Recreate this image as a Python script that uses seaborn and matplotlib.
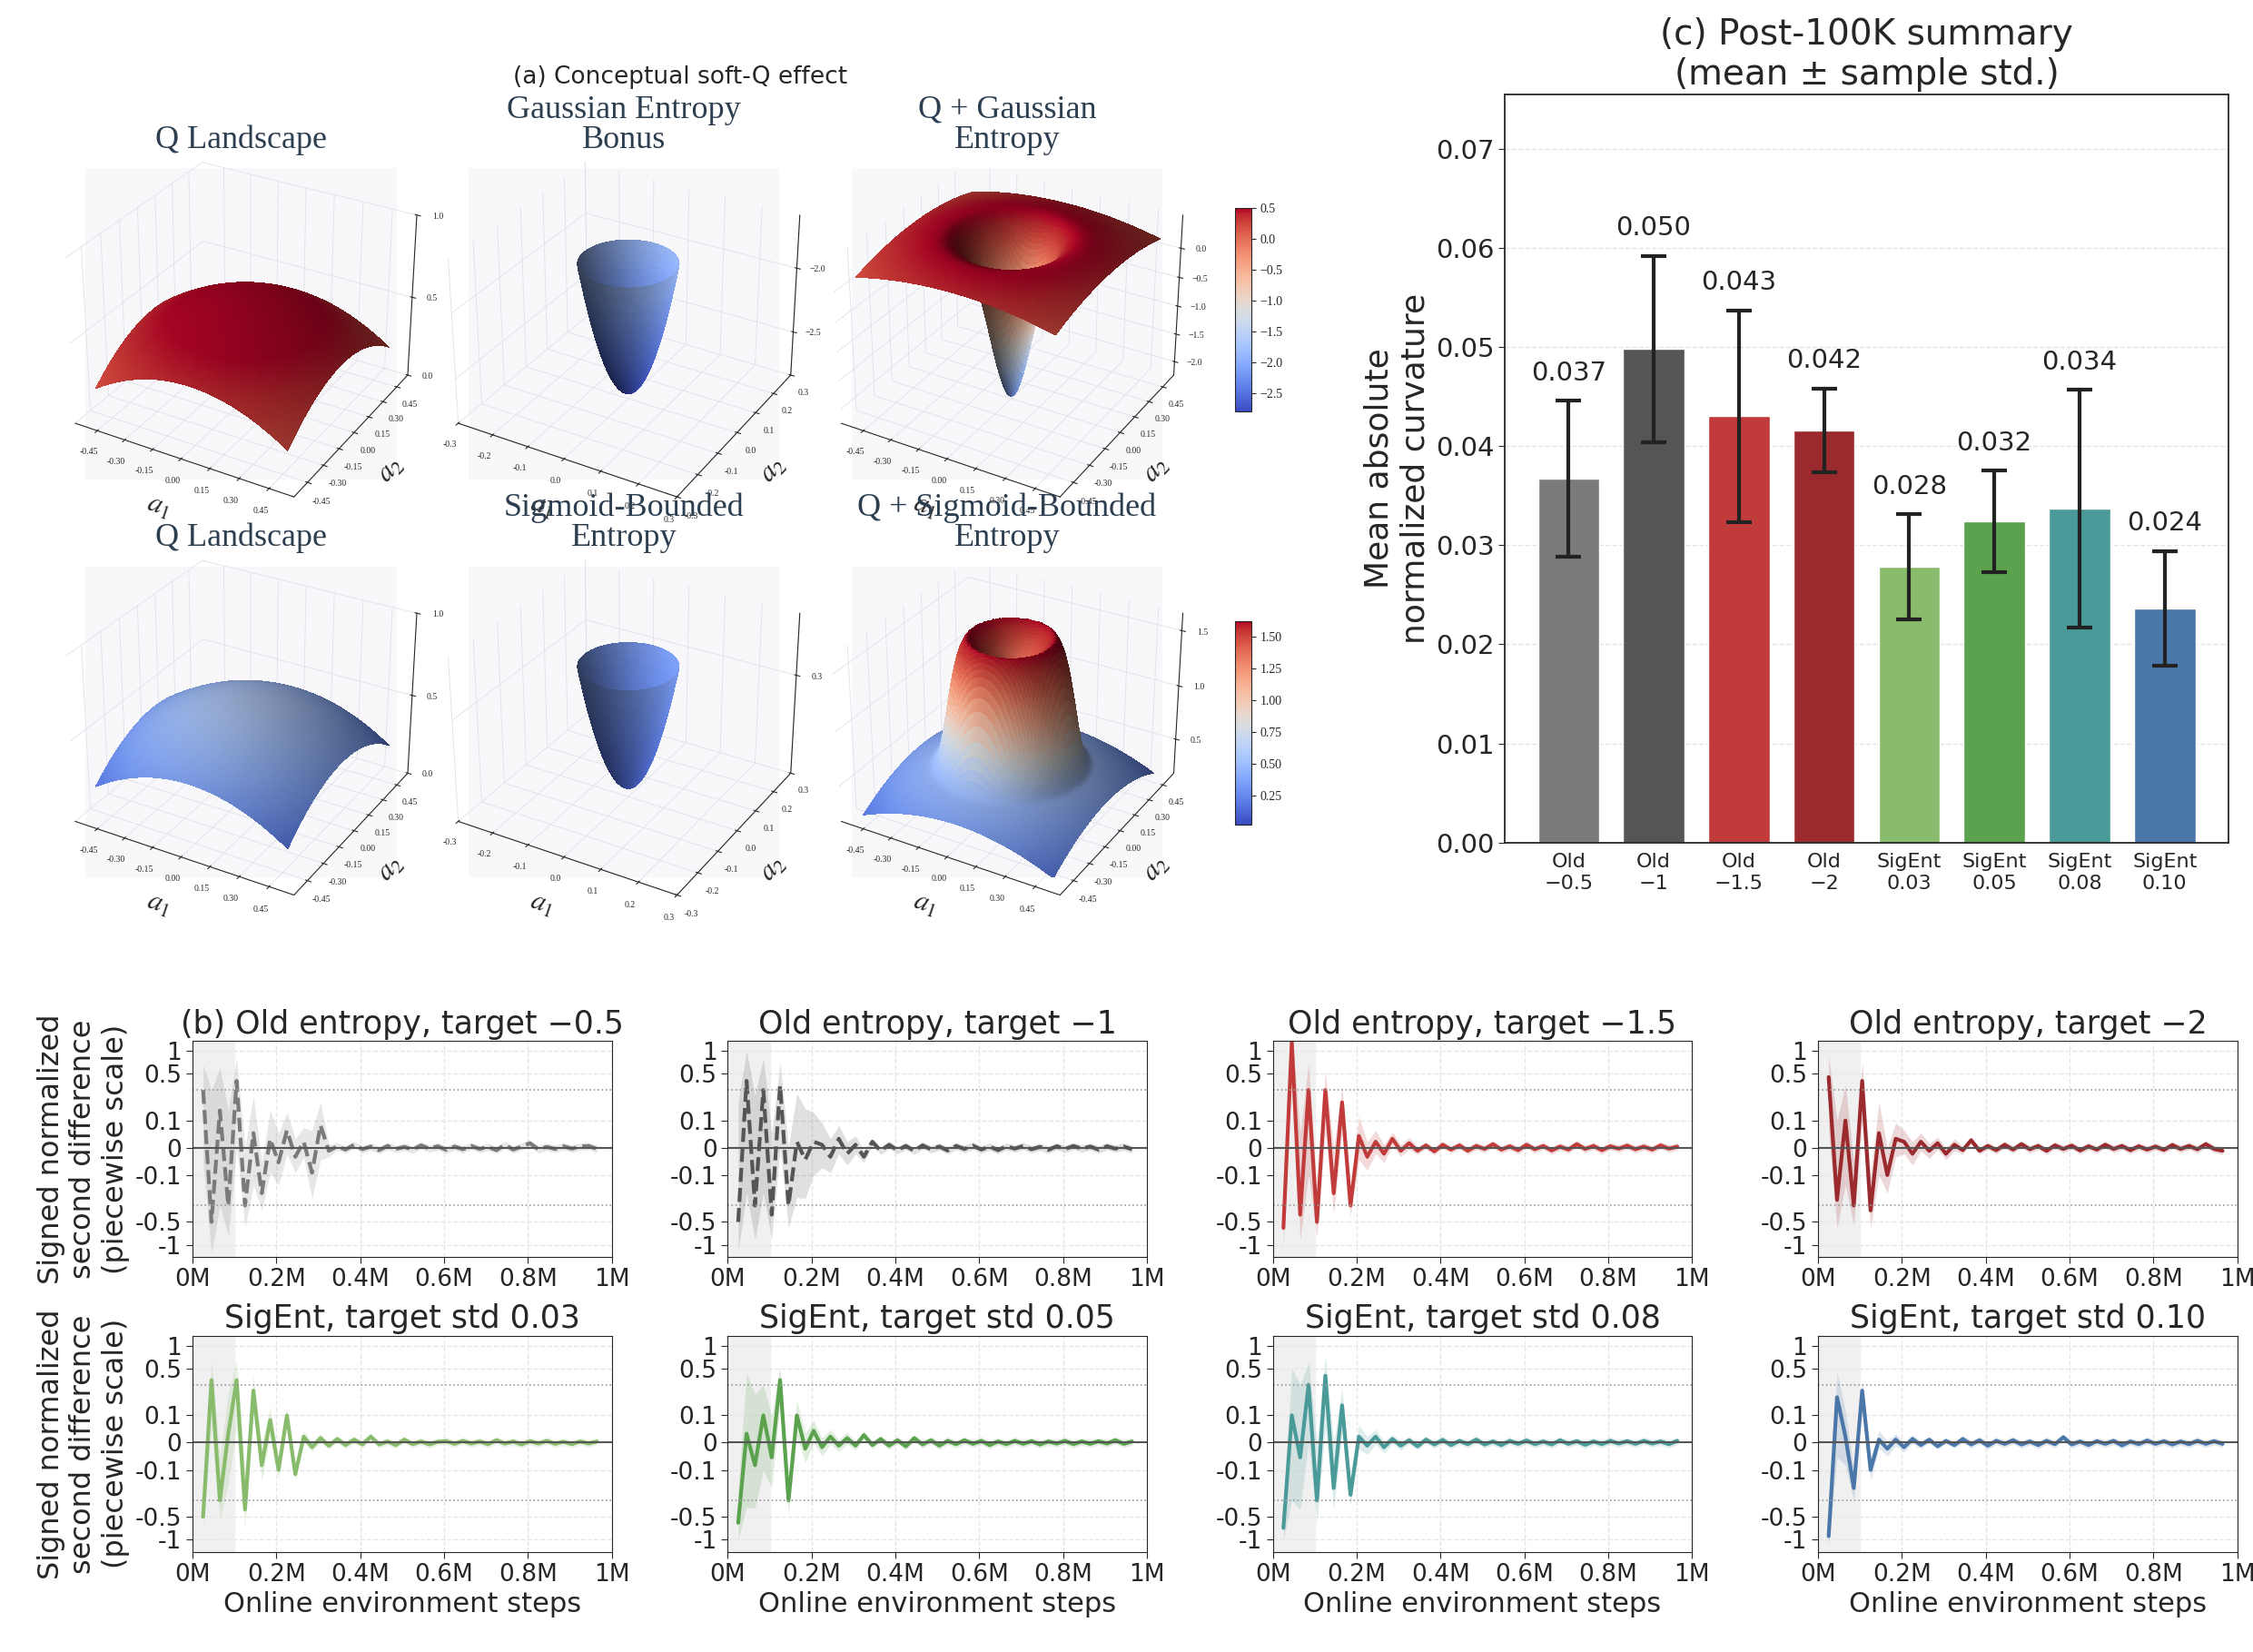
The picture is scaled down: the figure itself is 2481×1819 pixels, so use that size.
import numpy as np
import pandas as pd
import seaborn as sns
import matplotlib
matplotlib.use("Agg")
from matplotlib import pyplot as plt
from matplotlib import cm, colors

sns.set_style("white")
plt.rcParams['font.family'] = ['DejaVu Sans']
plt.rcParams['mathtext.fontset'] = 'stix'

# ---------------- data ----------------
bar_labels = ["Old\n\u22120.5", "Old\n\u22121", "Old\n\u22121.5", "Old\n\u22122",
              "SigEnt\n0.03", "SigEnt\n0.05", "SigEnt\n0.08", "SigEnt\n0.10"]
bar_means = [0.0367, 0.0498, 0.0430, 0.0416, 0.0278, 0.0324, 0.0337, 0.0236]
bar_stds = [0.0079, 0.0094, 0.0107, 0.0042, 0.0053, 0.0051, 0.0120, 0.0058]
bar_text = ["0.037", "0.050", "0.043", "0.042", "0.028", "0.032", "0.034", "0.024"]
bar_colors = ["#7a7a7a", "#555555", "#c23b3b", "#9b2a2e", "#88bc6c", "#5ba24f", "#4a9a9a", "#4a76a8"]

panel_titles = ["(b) Old entropy, target \u22120.5", "Old entropy, target \u22121",
                "Old entropy, target \u22121.5", "Old entropy, target \u22122",
                "SigEnt, target std 0.03", "SigEnt, target std 0.05",
                "SigEnt, target std 0.08", "SigEnt, target std 0.10"]
panel_dashed = [True, True, False, False, False, False, False, False]

steps = np.arange(25000, 975000, 20000)  # 48 checkpoints

old_05 = [0.3, -0.5, 0.15, -0.3, 0.4, -0.3, 0.05, -0.2, 0.03, -0.05, 0.06, -0.03, 0.02, -0.09, 0.08, -0.01,
          0.005, -0.006, 0.01, -0.005, 0.004, -0.008, 0.006, -0.004, 0.003, -0.006, 0.008, -0.003, 0.005, -0.007,
          0.004, -0.005, 0.006, -0.004, 0.003, -0.008, 0.01, -0.006, 0.004, 0.015, -0.005, 0.003, -0.004, 0.005,
          -0.003, 0.004, 0.006, -0.004]
old_1 = [-0.5, 0.4, -0.3, 0.3, -0.4, 0.35, -0.3, 0.02, -0.04, 0.02, 0.01, -0.03, 0.03, -0.02, 0.01, -0.03,
         0.02, -0.01, 0.01, -0.008, 0.006, -0.01, 0.008, -0.005, 0.004, -0.009, 0.006, -0.004, 0.007, -0.006,
         0.004, -0.008, 0.005, -0.003, 0.006, -0.005, 0.003, -0.007, 0.005, -0.004, 0.006, -0.003, 0.004, -0.006,
         0.005, -0.003, 0.004, -0.005]
old_15 = [-0.6, 1.3, -0.4, 0.3, -0.5, 0.3, -0.2, 0.2, -0.3, 0.04, -0.03, 0.02, -0.02, 0.03, -0.01, 0.015,
          -0.01, 0.008, -0.012, 0.01, -0.006, 0.008, -0.01, 0.006, -0.004, 0.012, -0.006, 0.005, -0.008, 0.01,
          -0.005, 0.006, -0.009, 0.004, -0.006, 0.012, -0.004, 0.006, -0.008, 0.005, -0.003, 0.007, -0.005, 0.004,
          -0.006, 0.008, -0.003, 0.004]
old_2 = [0.45, -0.25, 0.1, -0.3, 0.4, -0.35, 0.05, -0.1, 0.03, 0.02, -0.02, 0.02, -0.01, 0.015, -0.02, 0.01,
         -0.008, 0.025, -0.01, 0.006, -0.008, 0.01, -0.006, 0.012, -0.005, 0.006, -0.01, 0.008, -0.004, 0.007,
         -0.009, 0.005, -0.006, 0.01, -0.004, 0.006, -0.008, 0.005, -0.006, 0.004, -0.007, 0.009, -0.004, 0.006,
         -0.005, 0.012, -0.004, -0.01]
sig_03 = [-0.5, 0.35, -0.3, 0.03, 0.35, -0.4, 0.25, -0.08, 0.08, -0.1, 0.1, -0.12, 0.02, -0.015, 0.015, -0.01,
          0.012, -0.008, 0.01, -0.006, 0.02, -0.006, 0.004, -0.008, 0.01, -0.005, 0.004, -0.006, 0.003, 0.005,
          -0.004, 0.006, -0.003, 0.004, -0.005, 0.008, -0.003, 0.004, -0.006, 0.005, -0.003, 0.006, -0.004, 0.003,
          -0.005, 0.004, -0.003, 0.004]
sig_05 = [-0.6, 0.03, -0.08, 0.1, -0.05, 0.35, -0.3, 0.1, -0.02, 0.04, -0.015, 0.02, -0.01, 0.015, -0.01, 0.025,
          -0.008, 0.012, -0.01, 0.008, -0.012, 0.015, -0.006, 0.008, -0.01, 0.006, -0.005, 0.008, -0.004, 0.006,
          -0.008, 0.004, -0.005, 0.006, -0.004, 0.005, -0.006, 0.004, -0.003, 0.006, -0.005, 0.004, -0.004, 0.005,
          -0.003, 0.008, -0.004, 0.004]
sig_08 = [-0.7, 0.1, -0.05, 0.3, -0.3, 0.4, -0.2, 0.15, -0.25, 0.02, -0.01, 0.02, -0.015, 0.012, -0.01, 0.008,
          -0.012, 0.01, -0.006, 0.009, -0.008, 0.006, -0.005, 0.01, -0.006, 0.004, -0.008, 0.006, -0.004, 0.007,
          -0.005, 0.004, -0.006, 0.008, -0.004, 0.005, -0.007, 0.004, -0.005, 0.006, -0.003, 0.005, -0.004, 0.006,
          -0.003, 0.004, -0.005, 0.006]
sig_10 = [-0.9, 0.2, 0.02, -0.2, 0.25, -0.1, 0.01, -0.02, 0.01, -0.015, 0.012, -0.008, 0.01, -0.012, 0.006, -0.008,
          0.012, -0.006, 0.008, -0.01, 0.006, -0.004, 0.008, -0.006, 0.004, -0.008, 0.006, -0.005, 0.018, -0.006,
          0.004, -0.008, 0.005, -0.004, 0.006, -0.009, 0.004, -0.005, 0.007, -0.004, 0.005, -0.006, 0.004, -0.005,
          0.006, -0.004, 0.005, -0.004]

band_old_05 = [0.35, 0.8, 0.45, 0.45, 0.4, 0.3, 0.2, 0.15, 0.12, 0.1, 0.08, 0.06, 0.05, 0.15, 0.12, 0.02]
band_old_1 = [0.7, 0.6, 0.55, 0.5, 0.45, 0.35, 0.3, 0.25, 0.2, 0.12, 0.08, 0.06, 0.05, 0.04, 0.03, 0.02]
band_old_15 = [0.5, 0.6, 0.45, 0.4, 0.3, 0.25, 0.2, 0.15, 0.12, 0.08, 0.05, 0.04, 0.03, 0.025, 0.02, 0.02]
band_old_2 = [0.4, 0.35, 0.25, 0.25, 0.3, 0.25, 0.15, 0.1, 0.06, 0.04, 0.04, 0.03, 0.025, 0.02, 0.02, 0.02]
band_sig_03 = [0.15, 0.3, 0.25, 0.2, 0.3, 0.3, 0.15, 0.08, 0.06, 0.05, 0.04, 0.03, 0.02, 0.015, 0.015, 0.012]
band_sig_05 = [0.4, 0.4, 0.3, 0.2, 0.15, 0.2, 0.15, 0.08, 0.05, 0.04, 0.03, 0.025, 0.02, 0.02, 0.015, 0.015]
band_sig_08 = [0.3, 0.4, 0.35, 0.3, 0.3, 0.35, 0.2, 0.12, 0.1, 0.04, 0.03, 0.025, 0.02, 0.015, 0.015, 0.012]
band_sig_10 = [0.3, 0.25, 0.1, 0.1, 0.1, 0.05, 0.03, 0.025, 0.02, 0.015, 0.015, 0.012, 0.01, 0.01, 0.01, 0.01]

series = [old_05, old_1, old_15, old_2, sig_03, sig_05, sig_08, sig_10]
bands = [band_old_05, band_old_1, band_old_15, band_old_2, band_sig_03, band_sig_05, band_sig_08, band_sig_10]
band_tail = 0.012  # late-training spread

# conceptual surfaces (a)
q_peak, q_curv = 0.6, 0.8
gauss_floor, gauss_top, gauss_sigma = -2.8, -1.8, 0.1
sig_floor, sig_top, sig_lift, sig_radius = 0.12, 0.36, 1.1, 0.3
bowl_radius = 0.12

# ---------------- figure ----------------
fig = plt.figure(figsize=(24.81, 18.19), dpi=100)

title_col = "#2c3e50"
serif = ['Liberation Serif', 'DejaVu Serif']

g = np.linspace(-0.5, 0.5, 90)
A1, A2 = np.meshgrid(g, g)
R2 = A1 ** 2 + A2 ** 2
Q = q_peak - q_curv * R2
R = np.sqrt(R2)
comb1 = Q + gauss_floor * np.exp(-R2 / (2 * gauss_sigma ** 2))
hat = np.exp(-(R / sig_radius) ** 8)
comb2 = Q + sig_lift * hat * (0.7 + 0.3 * np.clip(R / 0.2, 0, 1) ** 2)

rr, th = np.meshgrid(np.linspace(0, bowl_radius, 40), np.linspace(0, 2 * np.pi, 90))
B1, B2 = rr * np.cos(th), rr * np.sin(th)
bowl_g = gauss_floor + (gauss_top - gauss_floor) * (rr / bowl_radius) ** 2
bowl_s = sig_floor + (sig_top - sig_floor) * (rr / bowl_radius) ** 2

col_l = [0.038, 0.208, 0.378]
row_b = [0.706, 0.465]
box_w, box_h = 0.138, 0.196
norms = [colors.Normalize(bowl_g.min(), comb1.max()), colors.Normalize(0.02, comb2.max())]
titles3d = [["Q Landscape", "Gaussian Entropy\nBonus", "Q + Gaussian\nEntropy"],
            ["Q Landscape", "Sigmoid-Bounded\nEntropy", "Q + Sigmoid-Bounded\nEntropy"]]
ticks_big = [-0.45, -0.30, -0.15, 0.00, 0.15, 0.30, 0.45]
ticks_small = [-0.3, -0.2, -0.1, 0.0, 0.1, 0.2, 0.3]

for r in range(2):
    surfs = [(A1, A2, Q), (B1, B2, bowl_g if r == 0 else bowl_s), (A1, A2, comb1 if r == 0 else comb2)]
    for c in range(3):
        ax = fig.add_axes([col_l[c], row_b[r], box_w, box_h], projection='3d')
        ax.set_facecolor('#f8f8fa')
        X, Y, Z = surfs[c]
        ax.plot_surface(X, Y, Z, facecolors=cm.coolwarm(norms[r](Z)), rstride=1, cstride=1,
                        linewidth=0, antialiased=False, shade=True)
        for axis in (ax.xaxis, ax.yaxis, ax.zaxis):
            axis.set_pane_color((1, 1, 1, 0))
            axis._axinfo["grid"]["color"] = (0.88, 0.88, 0.92, 1)
            axis._axinfo["grid"]["linewidth"] = 0.6
        tk = ticks_small if c == 1 else ticks_big
        if c == 1:
            ax.set_xlim(-0.3, 0.3)
            ax.set_ylim(-0.3, 0.3)
        ax.set_xticks(tk)
        ax.set_yticks(tk)
        ax.set_xticklabels([f"{t:.1f}" if c == 1 else f"{t:.2f}" for t in tk], fontsize=7, family=serif)
        ax.set_yticklabels([f"{t:.1f}" if c == 1 else f"{t:.2f}" for t in tk], fontsize=7, family=serif)
        if c == 0:
            ax.set_zlim(0, 1)
            ax.set_zticks([0, 0.5, 1.0])
        elif c == 1 and r == 0:
            ax.set_zlim(-2.85, -1.6)
            ax.set_zticks([-2.5, -2.0])
        elif c == 1:
            ax.set_zlim(0.1, 0.42)
            ax.set_zticks([0.3])
        elif r == 0:
            ax.set_zticks([-2.0, -1.5, -1.0, -0.5, 0.0])
        else:
            ax.set_zticks([0.5, 1.0, 1.5])
        for lab in ax.get_zticklabels():
            lab.set_fontsize(7)
            lab.set_family(serif)
        ax.tick_params(pad=0)
        ax.set_xlabel("$a_1$", fontsize=22, labelpad=0)
        ax.set_ylabel("$a_2$", fontsize=22, labelpad=0)
        ax.view_init(elev=30, azim=-60)
        ax.set_box_aspect(None, zoom=1.25)
        fig.text(col_l[c] + box_w / 2, row_b[r] + box_h + 0.004, titles3d[r][c], ha='center', va='bottom',
                 fontsize=26, family=serif, color=title_col, linespacing=1.0)
    cax = fig.add_axes([0.548, 0.751 if r == 0 else 0.501, 0.0073, 0.123])
    cb = fig.colorbar(cm.ScalarMappable(norm=norms[r], cmap='coolwarm'), cax=cax)
    if r == 1:
        cb.set_ticks([0.25, 0.5, 0.75, 1.0, 1.25, 1.5])
    for lab in cax.get_yticklabels():
        lab.set_fontsize(10)
        lab.set_family(serif)

fig.text(0.302, 0.953, "(a) Conceptual soft-Q effect", ha='center', va='center', fontsize=19)

# ---------------- (c) bar summary ----------------
axb = fig.add_axes([0.668, 0.49, 0.321, 0.453])
df = pd.DataFrame({"run": bar_labels, "mean": bar_means})
sns.barplot(data=df, x="run", y="mean", hue="run", palette=bar_colors, legend=False,
            width=0.72, ax=axb, saturation=1)
axb.errorbar(range(len(bar_means)), bar_means, yerr=bar_stds, fmt='none', ecolor='#222222',
             elinewidth=3, capsize=10, capthick=3)
for i, (m, s, t) in enumerate(zip(bar_means, bar_stds, bar_text)):
    axb.text(i, m + s + 0.0015, t, ha='center', va='bottom', fontsize=21)
axb.set_ylim(0, 0.0755)
axb.set_yticks(np.arange(0, 0.071, 0.01))
axb.set_yticklabels([f"{v:.2f}" for v in np.arange(0, 0.071, 0.01)], fontsize=21)
axb.tick_params(axis='x', labelsize=16, length=5)
axb.tick_params(axis='y', length=5, left=True)
axb.set_xlabel("")
axb.set_ylabel("Mean absolute\nnormalized curvature", fontsize=26)
axb.set_title("(c) Post-100K summary\n(mean \u00b1 sample std.)", fontsize=28, pad=8)
axb.yaxis.grid(True, linestyle='--', color='#e4e4e4', linewidth=1)
axb.set_axisbelow(True)
for sp in axb.spines.values():
    sp.set_linewidth(1.3)

# ---------------- (b) curvature traces ----------------
line_l = [0.0855, 0.323, 0.565, 0.807]
line_b = [0.239, 0.0605]
ytick_vals = [-1, -0.5, -0.1, 0, 0.1, 0.5, 1]
ytick_txt = ["-1", "-0.5", "-0.1", "0", "0.1", "0.5", "1"]
for k in range(8):
    r, c = divmod(k, 4)
    ax = fig.add_axes([line_l[c], line_b[r], 0.186, 0.131])
    ax.set_yscale('asinh', linear_width=0.11)
    ax.axvspan(0, 1e5, color='#f0f0f0', zorder=0)
    y = np.array(series[k])
    bw = np.array(bands[k] + [band_tail] * (len(steps) - len(bands[k])))
    ax.fill_between(steps, y - bw, y + bw, color=bar_colors[k], alpha=0.18, linewidth=0)
    sns.lineplot(x=steps, y=y, ax=ax, color=bar_colors[k], linewidth=3,
                 linestyle='--' if panel_dashed[k] else '-')
    ax.axhline(0, color='#555555', linewidth=1.5)
    for h in (0.3, -0.3):
        ax.axhline(h, color='#999999', linestyle=':', linewidth=1.2)
    ax.set_xlim(0, 1e6)
    ax.set_ylim(-1.45, 1.35)
    ax.set_yticks(ytick_vals)
    ax.set_yticks([], minor=True)
    ax.set_yticklabels(ytick_txt, fontsize=19)
    ax.set_xticks(np.arange(0, 1.01e6, 2e5))
    ax.set_xticklabels(["0M", "0.2M", "0.4M", "0.6M", "0.8M", "1M"], fontsize=19)
    ax.tick_params(length=5, left=True, bottom=True)
    ax.grid(True, linestyle='--', color='#e6e6e6', linewidth=1)
    ax.set_axisbelow(True)
    ax.set_title(panel_titles[k], fontsize=25, pad=6)
    if r == 1:
        ax.set_xlabel("Online environment steps", fontsize=22)
    if c == 0:
        ax.set_ylabel("Signed normalized\nsecond difference\n(piecewise scale)", fontsize=23)

fig.savefig("out.png", dpi=100)
